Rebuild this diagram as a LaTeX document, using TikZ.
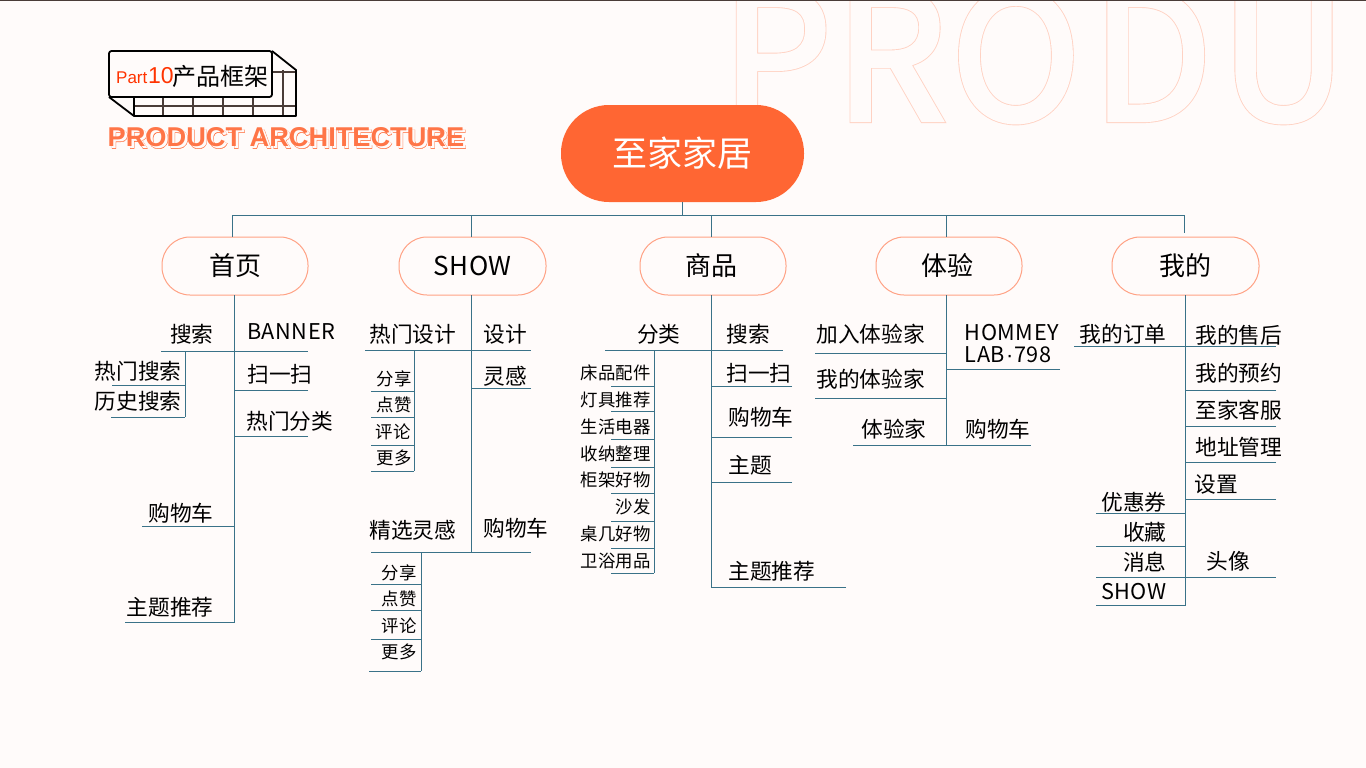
\documentclass[tikz,border=0pt]{standalone}
\usepackage{fontspec}
\setmainfont{Noto Sans CJK SC}
\newfontfamily\headfont{Liberation Sans}
\newfontfamily\headboldfont[FakeBold=1.2]{Liberation Sans Bold}
\newfontfamily\headfrontfont{Liberation Sans Bold}
\newfontfamily\markoutfont[FakeBold=3.5]{Noto Sans CJK SC}
\newfontfamily\markfont[FakeBold=2.5]{Noto Sans CJK SC}
\newfontfamily\latinfont[LetterSpace=2.5]{Noto Sans CJK SC}
\definecolor{paper}{HTML}{FFFBFA}
\definecolor{brand}{HTML}{FF6633}
\definecolor{redpart}{HTML}{FF3300}
\definecolor{wire}{HTML}{3A7288}
\definecolor{pale}{HTML}{FFD2C3}
\definecolor{peach}{HTML}{FFA285}
\definecolor{gridc}{HTML}{4A3C38}
\tikzset{
  link/.style={draw=wire,line width=0.9pt},
  pill/.style={draw=peach,line width=1pt,fill=paper,rounded corners=28pt,minimum height=58pt,text=black,font=\fontsize{26}{28}\selectfont},
  big/.style={inner sep=0pt,font=\fontsize{21.7}{24}\selectfont},
  lbig/.style={big,anchor=west,xshift=-0.7pt},
  rbig/.style={big,anchor=east,xshift=0.7pt},
  small/.style={inner sep=0pt,anchor=east,xshift=0.7pt,font=\fontsize{17.4}{20}\selectfont},
  lineb/.style={draw=black,line width=1.8pt,line join=round},
  thin/.style={draw=gridc,line width=1.3pt}
}
\begin{document}
\begin{tikzpicture}[x=1pt,y=-1pt]
\useasboundingbox (0,0) rectangle (1366,768);
\fill[paper] (0,0) rectangle (1366,768);
\begin{scope}
\clip (0,0) rectangle (1366,768);
\node[inner sep=0pt,anchor=base west,text=pale,font=\markoutfont\fontsize{175}{180}\selectfont] (markb) at (721,120) {P\kern3pt R\kern5pt O\kern11pt D\kern8pt U};
\node[inner sep=0pt,anchor=base west,text=paper,font=\markfont\fontsize{175}{180}\selectfont] (markf) at (721,120) {P\kern3pt R\kern5pt O\kern11pt D\kern8pt U};
\end{scope}
\draw[gridc,line width=1pt] (0,0.5) -- (1366,0.5);

% badge
\draw[thin] (134,106) -- (296,106);
\draw[thin] (272,72) -- (296,72);
\draw[thin] (283,70) -- (283,116);
\draw[thin] (163,97) -- (163,116);
\draw[thin] (193,97) -- (193,116);
\draw[thin] (223,97) -- (223,116);
\draw[thin] (253,97) -- (253,116);
\draw[lineb] (272,51) -- (296,70) -- (296,116) -- (134,116) -- (109,97);
\draw[lineb] (134,97) -- (134,116);
\draw[lineb,rounded corners=2.5pt,fill=paper] (109,51) rectangle (272,97);
\node[inner sep=0pt,anchor=base west,text=redpart,font=\headfont\fontsize{17}{18}\selectfont] (part) at (116,84) {Part};
\node[inner sep=0pt,anchor=base west,text=redpart,font=\headfont\fontsize{23}{26}\selectfont] (partno) at (148,84) {10};
\node[inner sep=0pt,anchor=west,font=\fontsize{24}{26}\selectfont] (badge) at (172.5,76) {产品框架};
\node[inner sep=0pt,anchor=base west,text=brand,font=\headboldfont\fontsize{27.2}{28}\selectfont] (archb) at (110,148.5) {PRODUCT ARCHITECTURE};
\node[inner sep=0pt,anchor=base west,text=paper,font=\headfrontfont\fontsize{27.2}{28}\selectfont] (archm) at (110,148.5) {PRODUCT ARCHITECTURE};
\node[inner sep=0pt,anchor=base west,text=brand!90,font=\headfrontfont\fontsize{27.2}{28}\selectfont] (arch) at (107.5,146) {PRODUCT ARCHITECTURE};

% top of the tree
\node[fill=brand,text=white,rounded corners=48pt,minimum width=243pt,minimum height=97pt,inner sep=0pt,font=\fontsize{35}{37}\selectfont] (root) at (682.5,153.5) {至家家居};
\node[pill,minimum width=146pt] (home) at (235,266) {首页};
\node[pill,minimum width=147pt,font=\latinfont\fontsize{26}{28}\selectfont] (show) at (472.5,266) {SHOW};
\node[pill,minimum width=146pt] (shop) at (713,266) {商品\kern4pt};
\node[pill,minimum width=146pt] (try) at (949,266) {体验\kern3pt};
\node[pill,minimum width=147pt] (mine) at (1185.5,266) {我的};
\coordinate (busa) at (232.5,215);
\coordinate (busb) at (471,215);
\coordinate (busc) at (682.5,215);
\coordinate (busd) at (711,215);
\coordinate (buse) at (946,215);
\coordinate (busf) at (1184.5,215);
\coordinate (busfend) at (1184.5,233);
\draw[link] (busa) -- (busf);
\draw[link] (root.south) -- (busc);
\draw[link] (busa) -- (busa |- home.north);
\draw[link] (busb) -- (busb |- show.north);
\draw[link] (busd) -- (busd |- shop.north);
\draw[link] (buse) -- (buse |- try.north);
\draw[link] (busf) -- (busfend);

% home
\coordinate (hometop) at (234.5,295); \coordinate (homeend) at (234.5,622);
\draw[link] (hometop) -- (homeend);
\node[rbig] (ha) at (213,334) {搜索};
\node[lbig,font=\latinfont\fontsize{21.7}{24}\selectfont] (hb) at (247.5,332) {BANNER};
\coordinate (hl) at (161,351); \coordinate (hr) at (308,351);
\draw[link] (hl) -- (hr);
\coordinate (hsub) at (185,351); \coordinate (hsubend) at (185,417);
\draw[link] (hsub) -- (hsubend);
\node[rbig] (hc) at (181,371) {热门搜索};
\coordinate (hcl) at (112,385);
\draw[link] (hcl) -- (hcl -| hsub);
\node[rbig] (hd) at (181,401) {历史搜索};
\coordinate (hdl) at (111,417);
\draw[link] (hdl) -- (hsubend);
\node[lbig] (he) at (248,374) {扫一扫};
\coordinate (her) at (308,390);
\draw[link] (her) -- (her -| hometop);
\node[lbig] (hf) at (247,421) {热门分类};
\coordinate (hfr) at (308,436);
\draw[link] (hfr) -- (hfr -| hometop);
\node[rbig] (hg) at (213,513) {购物车};
\coordinate (hgl) at (142,526);
\draw[link] (hgl) -- (hgl -| hometop);
\node[rbig] (hh) at (213,607) {主题推荐};
\coordinate (hhl) at (125,622);
\draw[link] (hhl) -- (homeend);

% show
\coordinate (showtop) at (471,295); \coordinate (showend) at (471,552);
\draw[link] (showtop) -- (showend);
\node[lbig] (sa) at (370,334) {热门设计};
\node[lbig] (sb) at (484,334) {设计};
\coordinate (sl) at (365,350); \coordinate (sr) at (531,350);
\draw[link] (sl) -- (sr);
\node[lbig] (sc) at (484,376) {灵感};
\coordinate (scr) at (531,388);
\draw[link] (scr) -- (scr -| showtop);
\coordinate (ssub) at (414,350); \coordinate (ssubend) at (414,471);
\draw[link] (ssub) -- (ssubend);
\node[small] (sd) at (411,379) {分享};
\coordinate (sdl) at (371,391);
\draw[link] (sdl) -- (sdl -| ssub);
\node[small] (se) at (411,405) {点赞};
\coordinate (sel) at (371,417);
\draw[link] (sel) -- (sel -| ssub);
\node[small] (sf) at (410,432) {评论};
\coordinate (sfl) at (371,445);
\draw[link] (sfl) -- (sfl -| ssub);
\node[small] (sg) at (411,458) {更多};
\coordinate (sgl) at (371,471);
\draw[link] (sgl) -- (ssubend);
\node[lbig] (sh) at (370,530) {精选灵感};
\node[lbig] (si) at (484,528) {购物车};
\coordinate (sil) at (371,552); \coordinate (sir) at (531,552);
\draw[link] (sil) -- (sir);
\coordinate (ttsub) at (421,552); \coordinate (ttsubend) at (421,671);
\draw[link] (ttsub) -- (ttsubend);
\node[small] (sj) at (416,573) {分享};
\coordinate (sjl) at (371,584);
\draw[link] (sjl) -- (sjl -| ttsub);
\node[small] (sk) at (416,599) {点赞};
\coordinate (skl) at (371,610);
\draw[link] (skl) -- (skl -| ttsub);
\node[small] (sm) at (416,626) {评论};
\coordinate (sml) at (371,639);
\draw[link] (sml) -- (sml -| ttsub);
\node[small] (sn) at (416,652) {更多};
\coordinate (snl) at (369,671);
\draw[link] (snl) -- (ttsubend);

% shop
\coordinate (shoptop) at (711,295); \coordinate (shopend) at (711,587);
\draw[link] (shoptop) -- (shopend);
\node[rbig] (pa) at (680,334) {分类};
\node[lbig] (pb) at (727,334) {搜索};
\coordinate (pl) at (605,350); \coordinate (pr) at (783,350);
\draw[link] (pl) -- (pr);
\node[lbig] (pc) at (727,373) {扫一扫};
\coordinate (pcr) at (792,386);
\draw[link] (pcr) -- (pcr -| shoptop);
\node[lbig] (pd) at (729,417) {购物车};
\coordinate (pdr) at (792,437);
\draw[link] (pdr) -- (pdr -| shoptop);
\node[lbig] (pe) at (729,465) {主题};
\coordinate (per) at (792,482);
\draw[link] (per) -- (per -| shoptop);
\node[lbig] (pf) at (729,571) {主题推荐};
\coordinate (pfr) at (846,587);
\draw[link] (pfr) -- (shopend);
\coordinate (psub) at (654,350); \coordinate (psubend) at (654,573);
\draw[link] (psub) -- (psubend);
\node[small] (q1) at (650,373) {床品配件};
\coordinate (q1l) at (611,386);
\draw[link] (q1l) -- (q1l -| psub);
\node[small] (q2) at (650,400) {灯具推荐};
\coordinate (q2l) at (611,411);
\draw[link] (q2l) -- (q2l -| psub);
\node[small] (q3) at (650,427) {生活电器};
\coordinate (q3l) at (611,439);
\draw[link] (q3l) -- (q3l -| psub);
\node[small] (q4) at (650,454) {收纳整理};
\coordinate (q4l) at (611,467);
\draw[link] (q4l) -- (q4l -| psub);
\node[small] (q5) at (650,480) {柜架好物};
\coordinate (q5l) at (611,493);
\draw[link] (q5l) -- (q5l -| psub);
\node[small] (q6) at (650,507) {沙发};
\coordinate (q6l) at (611,521);
\draw[link] (q6l) -- (q6l -| psub);
\node[small] (q7) at (650,534) {桌几好物};
\coordinate (q7l) at (611,548);
\draw[link] (q7l) -- (q7l -| psub);
\node[small] (q8) at (650,561) {卫浴用品};
\coordinate (q8l) at (611,573);
\draw[link] (q8l) -- (psubend);

% experience
\coordinate (trytop) at (946,295); \coordinate (tryend) at (946,445);
\draw[link] (trytop) -- (tryend);
\node[lbig] (ta) at (817,334) {加入体验家};
\coordinate (tal) at (815,353);
\draw[link] (tal) -- (tal -| trytop);
\node[lbig] (tb) at (817,379) {我的体验家};
\coordinate (tbl) at (815,398);
\draw[link] (tbl) -- (tbl -| trytop);
\node[big,anchor=north west,align=left,font=\latinfont\fontsize{21.7}{22.5}\selectfont] (tc) at (964.5,324) {HOMMEY\\LAB\kern1pt{\headfont ·}\kern1pt 798};
\coordinate (tcr) at (1060,369);
\draw[link] (tcr) -- (tcr -| trytop);
\node[rbig] (td) at (926,429) {体验家};
\node[lbig] (te) at (966,429) {购物车};
\coordinate (tel) at (853,445); \coordinate (ter) at (1031,445);
\draw[link] (tel) -- (ter);

% mine
\coordinate (minetop) at (1185.5,295); \coordinate (mineend) at (1185.5,605);
\draw[link] (minetop) -- (mineend);
\node[rbig] (ma) at (1166,334) {我的订单};
\node[lbig] (mb) at (1196,335) {我的售后};
\coordinate (ml) at (1074,346); \coordinate (mr) at (1276,346);
\draw[link] (ml) -- (mr);
\node[lbig] (mc) at (1196,373) {我的预约};
\coordinate (mcr) at (1276,390);
\draw[link] (mcr) -- (mcr -| minetop);
\node[lbig] (md) at (1196,410) {至家客服};
\coordinate (mdr) at (1276,426);
\draw[link] (mdr) -- (mdr -| minetop);
\node[lbig] (me) at (1196,447) {地址管理};
\coordinate (mer) at (1276,462);
\draw[link] (mer) -- (mer -| minetop);
\node[lbig] (mf) at (1195,484) {设置};
\coordinate (mfr) at (1276,499);
\draw[link] (mfr) -- (mfr -| minetop);
\node[rbig] (mg) at (1166,502) {优惠券};
\coordinate (mgl) at (1096,513);
\draw[link] (mgl) -- (mgl -| minetop);
\node[rbig] (mh) at (1166,532) {收藏};
\coordinate (mhl) at (1096,546);
\draw[link] (mhl) -- (mhl -| minetop);
\node[rbig] (mi) at (1166,562) {消息};
\node[lbig] (mj) at (1207,561) {头像};
\coordinate (mjl) at (1096,577); \coordinate (mjr) at (1276,577);
\draw[link] (mjl) -- (mjr);
\node[rbig,font=\latinfont\fontsize{21.7}{24}\selectfont] (mk) at (1166,592) {SHOW};
\coordinate (mkl) at (1096,605);
\draw[link] (mkl) -- (mineend);
\end{tikzpicture}
\end{document}
